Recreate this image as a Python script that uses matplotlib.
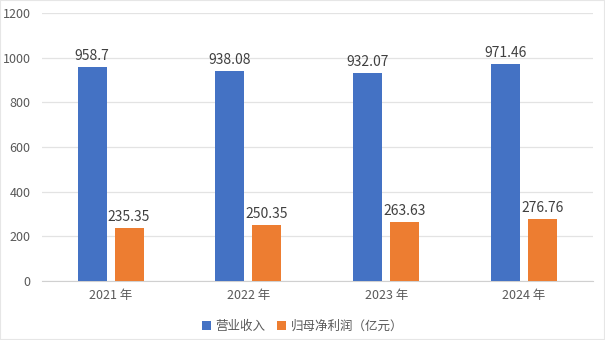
import numpy as np
import matplotlib.pyplot as plt
from matplotlib.patches import Rectangle

plt.rcParams['font.family'] = ['Noto Sans CJK SC', 'DejaVu Sans']

years = ['2021 年', '2022 年', '2023 年', '2024 年']
revenue = [958.7, 938.08, 932.07, 971.46]
profit = [235.35, 250.35, 263.63, 276.76]
rev_labels = ['958.7', '938.08', '932.07', '971.46']
profit_labels = ['235.35', '250.35', '263.63', '276.76']

blue = '#4472C4'
orange = '#ED7D31'
txt = '#595959'

fig = plt.figure(figsize=(6.05, 3.4), dpi=100)
ax = fig.add_axes([0.069, 0.1735, 0.911, 0.7885])

x = np.arange(len(years))
w = 0.21
off = 0.134
b1 = ax.bar(x - off, revenue, w, color=blue, label='营业收入', zorder=3)
b2 = ax.bar(x + off, profit, w, color=orange, label='归母净利润（亿元）', zorder=3)

for bars, labs in [(b1, rev_labels), (b2, profit_labels)]:
    for b, s in zip(bars, labs):
        ax.text(b.get_x() + b.get_width() / 2, b.get_height() + 18, s,
                ha='center', va='bottom', fontsize=10, color='#404040')

ax.set_xlim(-0.5, 3.5)
ax.set_ylim(0, 1200)
ax.set_yticks(range(0, 1201, 200))
ax.set_xticks(x)
ax.set_xticklabels(years)
ax.tick_params(length=0, labelsize=9, colors=txt)
ax.tick_params(axis='y', pad=8)
ax.tick_params(axis='x', pad=6)
ax.grid(axis='y', color='#E3E3E3', linewidth=0.9, zorder=0)
for s in ['top', 'right', 'left']:
    ax.spines[s].set_visible(False)
ax.spines['bottom'].set_color('#D0D0D0')

fig.legend(loc='center', bbox_to_anchor=(0.5, 0.04), ncol=2, frameon=False,
           fontsize=9, labelcolor=txt, handlelength=0.7, handleheight=0.7,
           handletextpad=0.4, columnspacing=0.9)

fig.patches.append(Rectangle((0, 0), 1, 1, transform=fig.transFigure,
                             fill=False, edgecolor='#E6E6E6', linewidth=1.5))

fig.savefig('out.png', dpi=100)
